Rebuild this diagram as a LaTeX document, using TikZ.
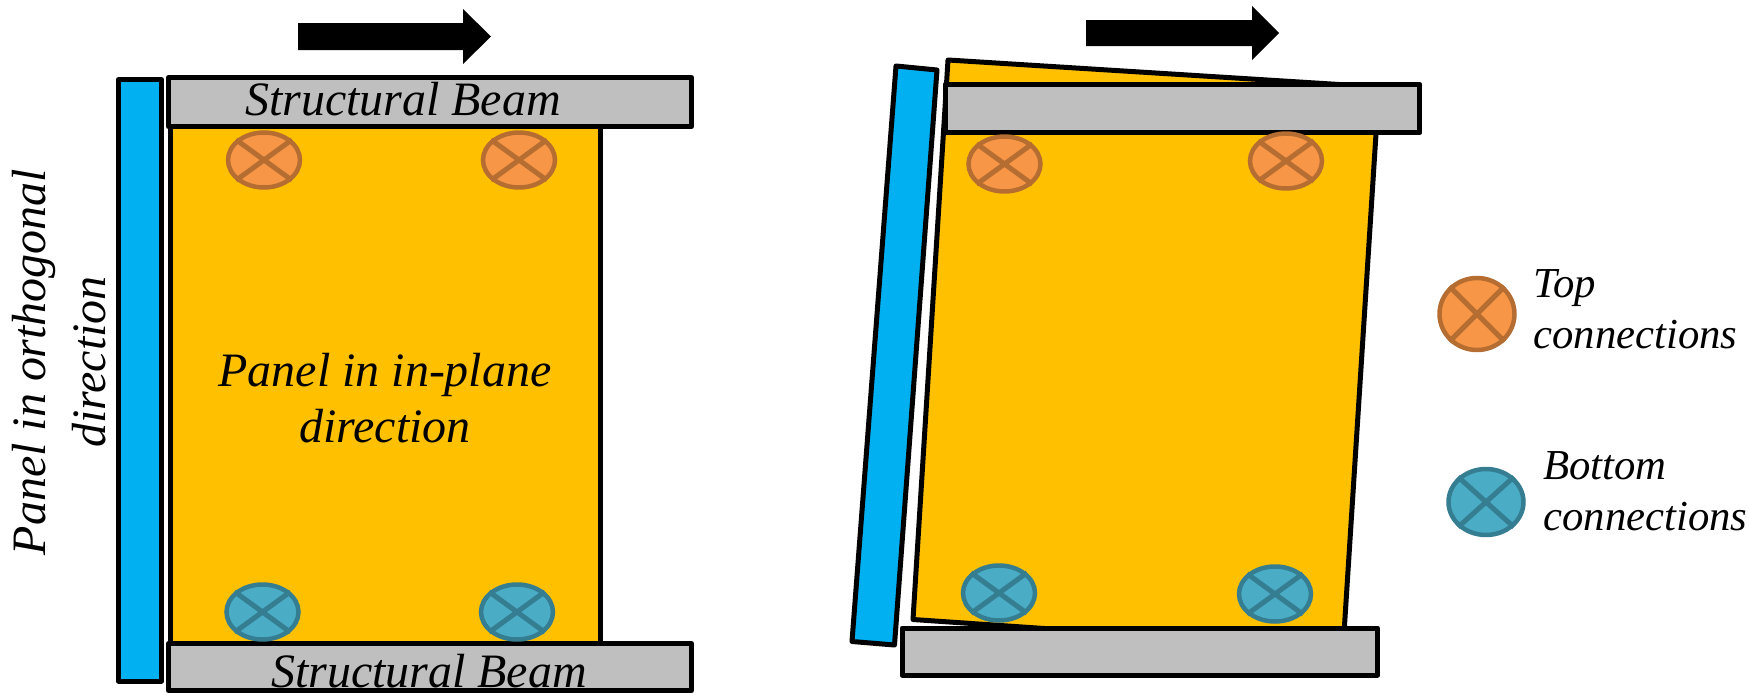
\documentclass[tikz,border=0pt]{standalone}
\usepackage{fontspec}
\setmainfont{Liberation Serif}
\usetikzlibrary{shapes.geometric}
\definecolor{panelyellow}{HTML}{FFC000}
\definecolor{panelblue}{HTML}{00B0F0}
\definecolor{beamgray}{HTML}{BFBFBF}
\definecolor{toporange}{HTML}{F79646}
\definecolor{topedge}{HTML}{B66D31}
\definecolor{botteal}{HTML}{4BACC6}
\definecolor{botedge}{HTML}{357D91}
\tikzset{
  wall/.style={draw=black,line width=0.1cm,line join=round},
  beam/.style={wall,fill=beamgray,rectangle,inner sep=0pt},
  topconn/.style={draw=topedge,fill=toporange,ellipse,inner sep=0pt,line width=0.09cm,minimum width=1.44cm,minimum height=1.1cm},
  botconn/.style={draw=botedge,fill=botteal,ellipse,inner sep=0pt,line width=0.09cm,minimum width=1.44cm,minimum height=1.1cm},
  lbl/.style={font=\itshape\fontsize{27.3}{32}\selectfont,inner sep=0pt,align=center},
  keylbl/.style={font=\itshape\fontsize{24.3}{29}\selectfont,inner sep=0pt,align=left,anchor=base west},
}
\begin{document}
\begin{tikzpicture}[x=0.02cm,y=-0.02cm]
  \useasboundingbox (0,0) rectangle (1749,693);
  % undeformed
  \fill (298,23) -- (463,23) -- (463,9) -- (491,36.5) -- (463,64) -- (463,50) -- (298,50) -- cycle;
  \draw[wall,fill=panelblue] (118.5,79.5) rectangle (161.5,681);
  \draw[wall,fill=panelyellow] (170.5,100) rectangle (600.5,660);
  \node[beam,minimum width=10.46cm,minimum height=0.98cm] (beamtop) at (430,102) {};
  \node[beam,minimum width=10.46cm,minimum height=0.94cm] (beambot) at (430,667) {};
  \node[lbl,anchor=base] (beamtoplbl) at (403,115) {Structural Beam};
  \node[lbl,anchor=base] (beambotlbl) at (429,687) {Structural Beam};
  \node[lbl] (inplane) at (385,398) {Panel in in-plane\\direction};
  \node[lbl,rotate=90,font=\itshape\fontsize{27.3}{34.5}\selectfont] (orth) at (59,362) {Panel in orthogonal\\direction};
  \node[topconn] (ltl) at (264,160) {};
  \node[topconn] (ltr) at (519,160) {};
  \node[botconn] (lbl) at (262.5,612) {};
  \node[botconn] (lbr) at (517,612) {};
  % deformed
  \fill (1086,20) -- (1252,20) -- (1252,6) -- (1279,33) -- (1252,60) -- (1252,46) -- (1086,46) -- cycle;
  \draw[wall,fill=panelblue] (896,66) -- (937,70) -- (894.5,645) -- (852,641.5) -- cycle;
  \draw[wall,fill=panelyellow] (948,60) -- (1379,87) -- (1343,649) -- (913,619.5) -- cycle;
  \node[beam,minimum width=9.5cm,minimum height=0.96cm] (beamtopb) at (1182.5,108.5) {};
  \node[beam,minimum width=9.51cm,minimum height=0.94cm] (beambotb) at (1139.75,651.5) {};
  \node[topconn] (rtl) at (1004.5,164) {};
  \node[topconn] (rtr) at (1286,161) {};
  \node[botconn] (rbl) at (999,593) {};
  \node[botconn] (rbr) at (1275,594) {};
  % legend
  \node[topconn,minimum width=1.5cm,minimum height=1.44cm] (keytop) at (1477,314) {};
  \node[botconn,minimum width=1.5cm,minimum height=1.32cm] (keybot) at (1486,502) {};
  \node[keylbl] (keytoplbl) at (1533,348) {Top\\connections};
  \node[keylbl] (keybotlbl) at (1543,530) {Bottom\\connections};
  \foreach \c in {ltl,ltr,rtl,rtr}
    \draw[topedge,line width=0.1cm] (\c.36) -- (\c.216) (\c.144) -- (\c.324);
  \foreach \c in {lbl,lbr,rbl,rbr}
    \draw[botedge,line width=0.1cm] (\c.36) -- (\c.216) (\c.144) -- (\c.324);
  \draw[topedge,line width=0.1cm] (keytop.45) -- (keytop.225) (keytop.135) -- (keytop.315);
  \draw[botedge,line width=0.1cm] (keybot.42) -- (keybot.222) (keybot.138) -- (keybot.318);
\end{tikzpicture}
\end{document}
